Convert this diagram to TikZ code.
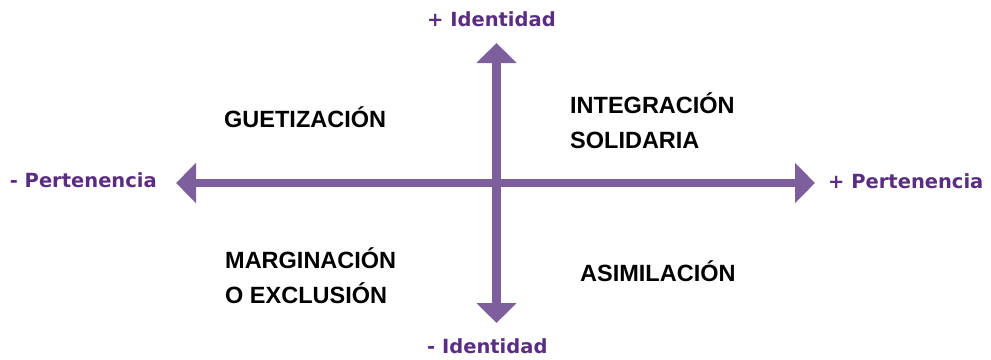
\documentclass[tikz,border=0pt]{standalone}
\usepackage{fontspec}
\setmainfont{Liberation Sans}
\newfontfamily\axisfont{DejaVu Sans}
\usetikzlibrary{arrows.meta}

\definecolor{axisline}{RGB}{125,95,158}
\definecolor{axistext}{RGB}{90,45,130}

\tikzset{
  axis/.style={axisline, line width=8.5pt,
    {Triangle[width=39pt,length=20pt]}-{Triangle[width=39pt,length=20pt]}},
  axislabel/.style={inner sep=0pt, text=axistext,
    font=\axisfont\bfseries\fontsize{19.5}{23}\selectfont},
  zone/.style={inner sep=0pt, anchor=base west, align=left,
    font=\bfseries\fontsize{23.5}{35}\selectfont}
}

\begin{document}
\begin{tikzpicture}[x=1pt,y=-1pt]
    \useasboundingbox (0,0) rectangle (991,359);

    	\coordinate (W) at (176,183);
    	\coordinate (E) at (815,183);
    	\coordinate (N) at (496.5,43);
    	\coordinate (S) at (496.5,323);

    	\draw[axis] (W) -- (E);
    	\draw[axis] (S) -- (N);

    	\node[axislabel, anchor=base east] (lessP) at (157,187) {- Pertenencia};
    	\node[axislabel, anchor=base west] (moreP) at (828,188) {+ Pertenencia};
    	\node[axislabel, anchor=base west] (moreI) at (427,26) {+ Identidad};
    	\node[axislabel, anchor=base west] (lessI) at (427,353) {- Identidad};

    	% base anchor sits on the last line
    	\foreach \name/\x/\y/\txt in {guet/224/127/GUETIZACIÓN,
    			integ/570/148/INTEGRACIÓN\\SOLIDARIA,
    			marg/225/303/MARGINACIÓN\\O EXCLUSIÓN,
    			asim/580/281/ASIMILACIÓN} {
    		\node[zone] (\name) at (\x,\y) {\txt};
    	};
\end{tikzpicture}
\end{document}
